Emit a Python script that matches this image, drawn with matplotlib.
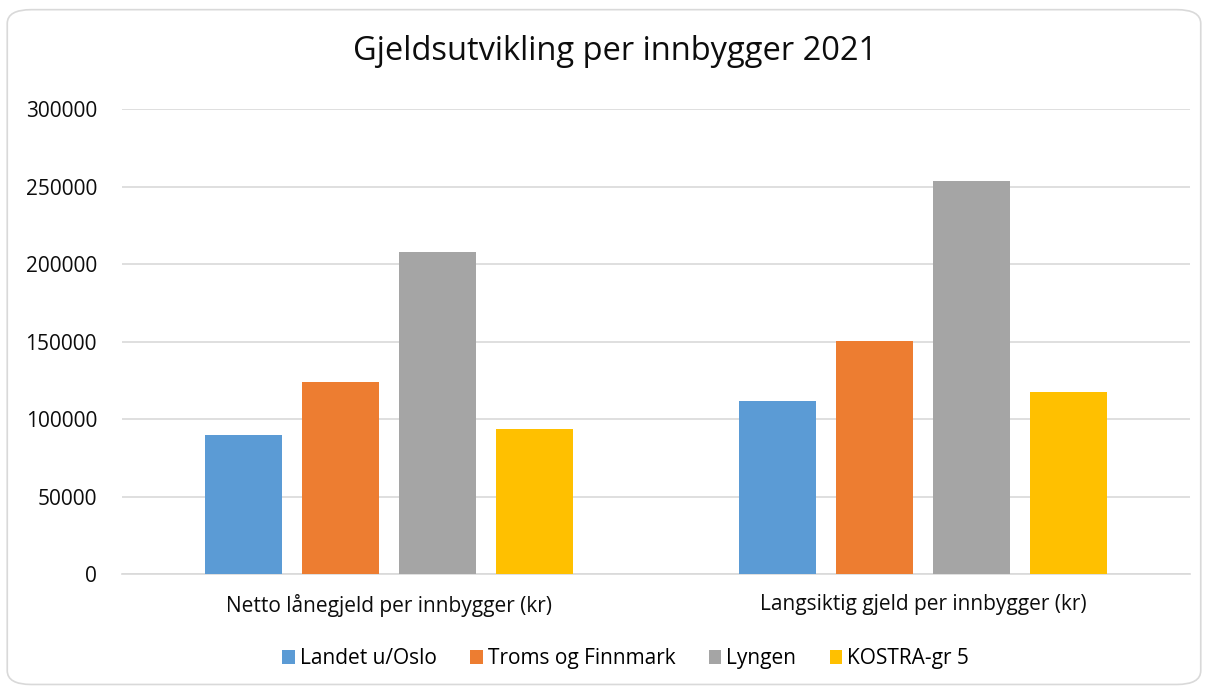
import numpy as np
import matplotlib
matplotlib.use('Agg')
import matplotlib.pyplot as plt
from matplotlib.patches import FancyBboxPatch

# ── Data ──────────────────────────────────────────────────────────────────────
categories = ["Netto lånegjeld per innbygger (kr)",
              "Langsiktig gjeld per innbygger (kr)"]
series_names = ["Landet u/Oslo", "Troms og Finnmark", "Lyngen", "KOSTRA-gr 5"]
landet = [89700, 111400]
troms = [123600, 150400]
lyngen = [208000, 253700]
kostra = [93400, 117600]
yticks = [0, 50000, 100000, 150000, 200000, 250000, 300000]

COLORS = ["#5B9BD5", "#ED7D31", "#A5A5A5", "#FFC000"]
plt.rcParams['font.family'] = ['Open Sans', 'DejaVu Sans']

fig = plt.figure(figsize=(12.08, 6.9), dpi=100)
ax = fig.add_axes([0.101, 0.168, 0.884, 0.674])

# outer rounded border
fig.patches.append(FancyBboxPatch((0.006, 0.008), 0.988, 0.978,
                                  boxstyle="round,pad=0,rounding_size=0.02",
                                  transform=fig.transFigure, fill=False,
                                  edgecolor="#d9d9d9", linewidth=1.2))

x = np.arange(len(categories))
w = 0.144
step = 0.1816
for i, (vals, name, col) in enumerate(zip([landet, troms, lyngen, kostra],
                                           series_names, COLORS)):
    ax.bar(x + (i - 1.5) * step, vals, w, color=col, label=name, zorder=3)

ax.set_xlim(-0.5, 1.5)
ax.set_ylim(0, 300000)
ax.set_yticks(yticks)
ax.set_yticklabels([str(v) for v in yticks], fontsize=15, color="#0d0d0d")
ax.set_xticks(x)
ax.set_xticklabels(categories, fontsize=15, color="#0d0d0d")
ax.tick_params(axis='y', length=0, pad=18)
ax.tick_params(axis='x', length=0, pad=14)
ax.grid(axis='y', color="#d9d9d9", linewidth=1.2, zorder=0)
for s in ['top', 'right', 'left']:
    ax.spines[s].set_visible(False)
ax.spines['bottom'].set_color("#d9d9d9")
ax.spines['bottom'].set_linewidth(1.2)

fig.text(0.509, 0.925, "Gjeldsutvikling per innbygger 2021", ha='center',
         va='center', fontsize=23.5, color="#0d0d0d")

fig.legend(loc='center', bbox_to_anchor=(0.518, 0.045), ncol=4, frameon=False,
           fontsize=15, handlelength=0.6, handleheight=0.6,
           handletextpad=0.25, columnspacing=1.6)

fig.savefig("out.png", dpi=100)
